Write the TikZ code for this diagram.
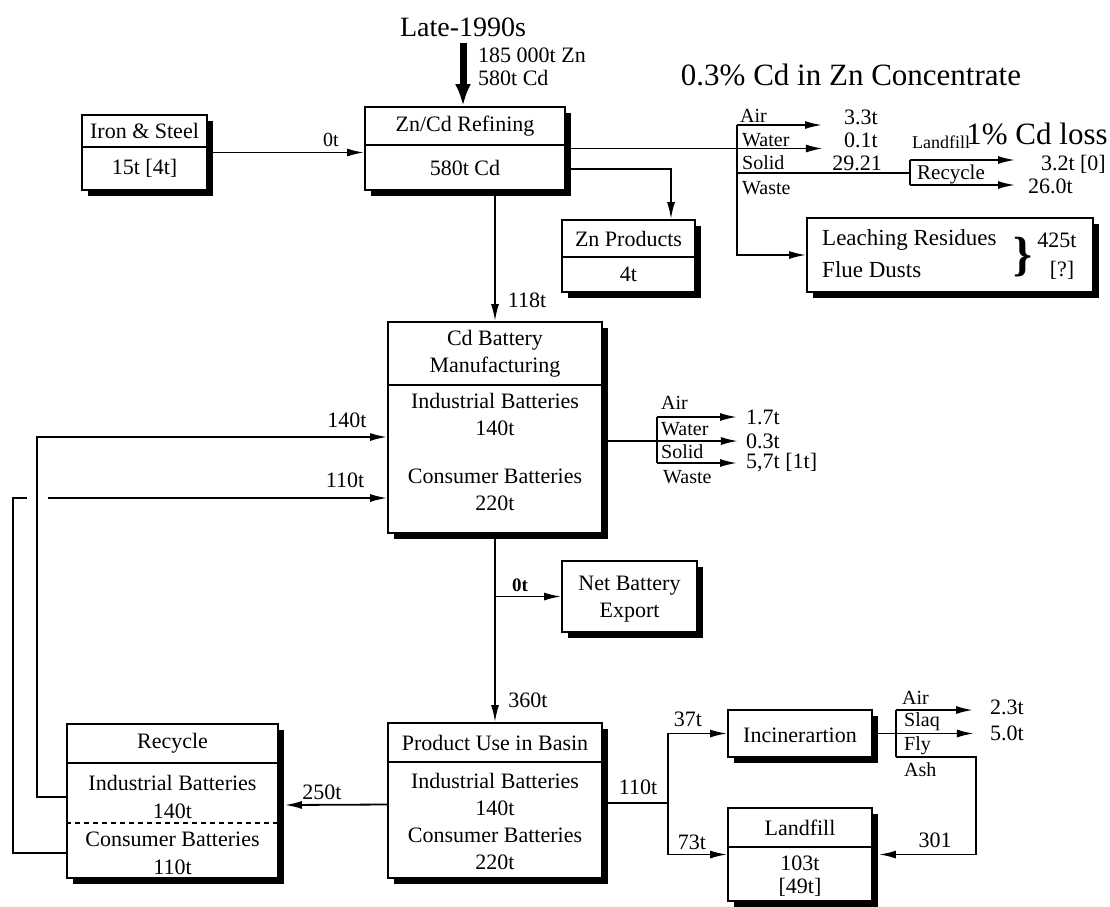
\documentclass[tikz,border=0pt]{standalone}
\usepackage{fontspec}
\setmainfont{Liberation Serif}
\usetikzlibrary{arrows.meta, positioning, calc, shadows}

\begin{document}
\begin{tikzpicture}[x=1pt, y=-1pt,
    box/.style={draw, fill=white, line width=1.8pt, inner sep=0pt, drop shadow={shadow xshift=6pt, shadow yshift=-6pt, fill=black, opacity=1}},
    hdr/.style={draw, line width=1.8pt, inner sep=0pt, font=\fontsize{22}{26}\selectfont},
    txt/.style={inner sep=0pt, align=center, font=\fontsize{22}{27}\selectfont},
    lbl/.style={inner sep=0pt, anchor=west, font=\fontsize{20}{22}\selectfont},
    val/.style={inner sep=0pt, font=\fontsize{22}{24}\selectfont},
    ttl/.style={inner sep=0pt, font=\fontsize{31}{34}\selectfont},
    arr/.style={-{Latex[length=17pt, width=8pt]}, line width=1.8pt},
    fat/.style={-{Latex[length=22pt, width=16pt]}, line width=7pt},
    ln/.style={line width=1.8pt}
  ]
  \useasboundingbox (0,0) rectangle (1110,906);

  % Refining stage
  \node[ttl, font=\fontsize{28}{30}\selectfont] (late) at (463,27) {Late-1990s};
  \node[box, minimum width=125pt, minimum height=75pt] (iron) at (144.5,152.5) {};
  \node[hdr, minimum width=125pt, minimum height=32pt, anchor=north] (ironh) at (iron.north) {Iron \& Steel};
  \node[txt] (ironb) at (144.5,168.5) {15t [4t]};

  \node[box, minimum width=200pt, minimum height=83pt] (zncd) at (465,148.5) {};
  \node[hdr, minimum width=200pt, minimum height=38pt, anchor=north] (zncdh) at (zncd.north) {Zn/Cd Refining};
  \node[txt] (zncdb) at (465,167.5) {580t Cd};

  \coordinate (feed) at (463,43);
  \draw[fat] (feed) -- (feed |- zncd.north);
  \node[val, anchor=west] (feedzn) at (478,55) {185 000t Zn};
  \node[val, anchor=west] (feedcd) at (478,78) {580t Cd};
  \draw[arr] (iron.east) -- (iron.east -| zncd.west);
  \node[val, font=\fontsize{20}{22}\selectfont] (fe0) at (331,140) {0t};

  \node[box, minimum width=133pt, minimum height=72pt] (znprod) at (628.5,256) {};
  \node[hdr, minimum width=133pt, minimum height=37pt, anchor=north] (znprodh) at (znprod.north) {Zn Products};
  \node[txt] (znprodb) at (628.5,274.5) {4t};

  \node[box, minimum width=286pt, minimum height=74pt] (leach) at (950,255) {};
  \node[txt, font=\fontsize{23}{27}\selectfont, anchor=west] (leach1) at (822,240) {Leaching Residues};
  \node[txt, font=\fontsize{23}{27}\selectfont, anchor=west] (leach2) at (822,270) {Flue Dusts};
  \node[txt, font=\fontsize{48}{48}\selectfont\bfseries] (brace) at (1023,257) {\}};
  \node[val] (leach3) at (1057,240) {425t};
  \node[val] (leach4) at (1062,270) {[?]};

  \node[ttl] (conc) at (851,75) {0.3\% Cd in Zn Concentrate};

  % refining emissions
  \draw[arr] (zncd.east) -- ++(257,0);
  \draw[arr] ([yshift=-20.5pt]zncd.east) -| ([xshift=42.5pt]znprod.north);
  \coordinate (zT) at (737,125);
  \draw[arr] (zT) -- ++(85,0);
  \draw[arr] (zT) |- (leach.west);
  \coordinate (zS) at (737,173);
  \draw[ln] (zS) -- ++(173,0);
  \coordinate (lT) at (910,160);
  \draw[arr] (lT) -- ++(105,0);
  \draw[ln] (lT) -- ++(0,25) coordinate (lB);
  \draw[arr] (lB) -- ++(105,0);
  \node[lbl] (zair) at (740,116) {Air};
  \node[lbl] (zwat) at (742,140) {Water};
  \node[lbl] (zsol) at (742,163) {Solid};
  \node[lbl] (zwas) at (742,188) {Waste};
  \node[val] (zv1) at (861,117) {3.3t};
  \node[val] (zv2) at (861,140) {0.1t};
  \node[val] (zv3) at (857,163) {29.21};
  \node[lbl, font=\fontsize{18}{20}\selectfont] (zlf) at (912,142) {Landfill};
  \node[lbl, font=\fontsize{21}{22}\selectfont] (zrc) at (917,174) {Recycle};
  \node[ttl] (loss) at (1037,134) {1\% Cd loss};
  \node[val, anchor=east] (zv4) at (1106,164) {3.2t [0]};
  \node[val, anchor=west] (zv5) at (1028,186) {26.0t};

  % Battery manufacturing
  \node[box, minimum width=214pt, minimum height=211pt] (cdbat) at (495,427.5) {};
  \node[hdr, minimum width=214pt, minimum height=63pt, anchor=north, align=center, font=\fontsize{22}{27}\selectfont] (cdbath) at (cdbat.north) {Cd Battery\\Manufacturing};
  \node[txt] (cdbatb) at (495,452) {Industrial Batteries\\140t\\[21pt]Consumer Batteries\\220t};
  \draw[arr] (cdbat.north |- zncd.south) -- (cdbat.north);
  \node[val] (v118) at (527,300) {118t};

  \draw[arr] ([yshift=-13.5pt]cdbat.east) -- ++(135,0);
  \coordinate (cT) at (657,417);
  \draw[arr] (cT) -- ++(80,0);
  \draw[ln] (cT) -- ++(0,46) coordinate (cB);
  \draw[arr] (cB) -- ++(80,0);
  \node[lbl] (cair) at (661,403) {Air};
  \node[lbl] (cwat) at (661,429) {Water};
  \node[lbl] (csol) at (661,452) {Solid};
  \node[lbl] (cwas) at (663,477) {Waste};
  \node[val, anchor=west] (cv1) at (746,417) {1.7t};
  \node[val, anchor=west] (cv2) at (746,441) {0.3t};
  \node[val, anchor=west] (cv3) at (746,463) {5,7t [1t]};

  \node[box, minimum width=135pt, minimum height=71pt] (netexp) at (629.5,596.5) {};
  \node[txt] (netexpt) at (629.5,599) {Net Battery\\Export};
  \draw[arr] (cdbat.south |- netexp.west) -- (netexp.west);
  \node[val, font=\fontsize{19}{20}\selectfont\bfseries] (ne0) at (520,585) {0t};

  % Use and end of life
  \node[box, minimum width=214pt, minimum height=155pt] (product) at (495,800.5) {};
  \node[hdr, minimum width=214pt, minimum height=39pt, anchor=north] (producth) at (product.north) {Product Use in Basin};
  \node[txt] (productb) at (495,821) {Industrial Batteries\\140t\\Consumer Batteries\\220t};
  \draw[arr] (cdbat.south) -- (product.north);
  \node[val] (v360) at (528,700) {360t};

  \node[box, minimum width=211pt, minimum height=154pt] (recycle) at (172.5,801) {};
  \node[hdr, minimum width=211pt, minimum height=39pt, anchor=north] (recycleh) at (recycle.north) {Recycle};
  \node[txt, font=\fontsize{22}{28}\selectfont] (recycleb) at (172.5,825) {Industrial Batteries\\140t\\Consumer Batteries\\110t};
  \draw[line width=1.6pt, dash pattern=on 5pt off 4pt] ([yshift=-22pt]recycle.west) -- ([yshift=-22pt]recycle.east);
  \draw[arr] ([yshift=-4pt]product.west) -- ([xshift=6pt, yshift=-4pt]recycle.east);
  \node[val] (v250) at (322,792) {250t};

  % feedback to manufacturing
  \coordinate (fbI) at (37,437);
  \draw[arr] ([yshift=4pt]recycle.west) -| (fbI) -- (fbI -| cdbat.west);
  \coordinate (fbO) at (13,498);
  \draw[ln] ([yshift=-52pt]recycle.west) -| (fbO) -- ++(14,0);
  \coordinate (fbG) at (48,498);
  \draw[arr] (fbG) -- (fbG -| cdbat.west);
  \node[val] (v140) at (347,420) {140t};
  \node[val] (v110) at (345,480) {110t};

  \node[box, minimum width=144pt, minimum height=47pt] (incin) at (800,733.5) {};
  \node[txt] (incint) at (800,735) {Incinerartion};
  \node[box, minimum width=144pt, minimum height=93pt] (landfill) at (800,854.5) {};
  \node[hdr, minimum width=144pt, minimum height=39pt, anchor=north] (landfillh) at (landfill.north) {Landfill};
  \node[txt, font=\fontsize{22}{23}\selectfont] (landfillb) at (800,876) {103t\\{[49t]}};

  \draw[ln] ([yshift=-2.5pt]product.east) -- ++(65,0) coordinate (pS);
  \draw[arr] (pS) |- (incin.west);
  \draw[arr] (pS) |- (landfill.west);
  \node[val] (v110b) at (638,787) {110t};
  \node[val] (v37) at (688,719) {37t};
  \node[val] (v73) at (692,842) {73t};

  \draw[arr] (incin.east) -- ++(101,0);
  \coordinate (iT) at (896,710);
  \draw[arr] (iT) -- ++(77,0);
  \draw[ln] (iT) -- ++(0,47) coordinate (iB);
  \draw[arr] (iB) -- ++(80,0) |- ([xshift=6pt]landfill.east);
  \node[lbl] (iair) at (902,698) {Air};
  \node[lbl] (islg) at (904,722) {Slaq};
  \node[lbl] (ifly) at (904,746) {Fly};
  \node[lbl] (iash) at (904,770) {Ash};
  \node[val, anchor=west] (iv1) at (990,707) {2.3t};
  \node[val, anchor=west] (iv2) at (990,733) {5.0t};
  \node[val] (v301) at (935,840) {301};
\end{tikzpicture}
\end{document}
